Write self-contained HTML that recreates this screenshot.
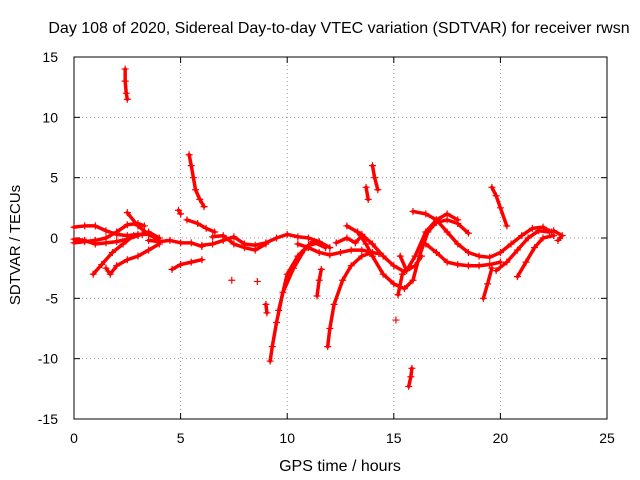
<!DOCTYPE html>
<html><head><meta charset="utf-8"><style>
body{margin:0;background:#fff}
svg{display:block;font-family:"Liberation Sans",sans-serif}
</style></head><body>
<svg id="chart" width="640" height="480" viewBox="0 0 640 480">
<rect width="640" height="480" fill="#fff"/>
<g id="grid"></g>
<g id="axes"></g>
<g id="series"></g>
<text x="339" y="33" font-size="16" text-anchor="middle">Day 108 of 2020, Sidereal Day-to-day VTEC variation (SDTVAR) for receiver rwsn</text>
<text x="340" y="471" font-size="16" text-anchor="middle">GPS time / hours</text>
<text x="20" y="245" font-size="15" text-anchor="middle" transform="rotate(-90 20 245)">SDTVAR / TECUs</text>
</svg>
<script>
const xTicks=[0,5,10,15,20,25];
const yTicks=[15,10,5,0,-5,-10,-15];
const tracks=[
[[0,0.9],[0.5,1.0],[1,1.0],[1.5,0.6],[2,0.3],[2.5,0.2],[3,0.3],[3.5,0.3]],
[[0,-0.4],[0.5,-0.3],[1,-0.2],[1.5,0.0],[2,0.5],[2.5,1.1],[3,1.2],[3.3,1.0]],
[[0,-0.1],[0.5,-0.2],[1,-0.5],[1.5,-0.4],[2,-0.3],[2.5,-0.1],[3,0.2],[3.5,0.5],[4,0.0]],
[[0.9,-3],[1.3,-2.2],[1.8,-1.2],[2.3,-0.5],[2.8,0.2],[3.2,0.3]],
[[1.5,-2.5],[1.7,-3.0],[2,-2.3],[2.5,-1.8],[3,-1.5],[3.5,-1.0],[4,-0.5]],
[[2.5,2.1],[3,1.0],[3.5,0.3],[4,-0.2]],
[[2.4,14.0],[2.4,13.0],[2.45,12.0],[2.5,11.5]],
[[3.5,-0.2],[4,-0.3],[4.5,-0.2],[5,-0.4],[5.5,-0.4],[6,-0.7]],
[[4.6,-2.6],[5,-2.2],[5.5,-2.0],[6,-1.8]],
[[4.9,2.3],[5,2.0]],
[[5.4,6.9],[5.5,6.0],[5.6,5.0],[5.7,4.0],[5.9,3.2],[6.1,2.6]],
[[5.3,1.5],[5.8,1.2],[6.2,0.8],[6.6,0.5]],
[[6,-0.6],[6.5,-0.5],[7,-0.2],[7.5,0.1],[8,-0.5],[8.5,-0.6],[9,-0.4],[9.5,0],[10,0.3],[10.5,0.1],[11,0],[11.5,-0.3],[12,-0.8]],
[[6.5,0.1],[7,0.2],[7.5,-0.5],[8,-0.8],[8.5,-1.0],[9,-0.5]],
[[7.4,-3.5]],
[[8.6,-3.6]],
[[9,-5.5],[9.05,-6.2]],
[[9.2,-10.2],[9.3,-9.0],[9.5,-7.0],[9.8,-4.5],[10.3,-2.5],[10.8,-1.0],[11.2,-0.3],[11.8,-0.8]],
[[9.6,-6],[10,-3.0],[10.5,-1.5],[11,-0.6],[11.5,-0.4]],
[[11.4,-4.8],[11.5,-3.5],[11.6,-2.6]],
[[11.9,-9],[12,-7.5],[12.2,-5.5],[12.6,-3.5],[13,-2.3],[13.5,-1.5],[14,-1.2],[14.3,-1.3]],
[[10.5,-0.5],[11,-0.8],[11.5,-1.2],[12,-1.4],[12.5,-1.2],[13,-1.0],[13.5,-1.0],[14,-1.2]],
[[12.3,-0.4],[12.8,0],[13.2,-0.4],[13.5,0.2]],
[[12.8,1.0],[13.5,0.3],[14,-0.5],[14.5,-1.5],[15,-2.3],[15.5,-2.8],[16,-2.3],[16.3,-1.5]],
[[13.7,4.2],[13.8,3.2]],
[[14,6],[14.1,5],[14.25,4]],
[[13.3,0.5],[13.7,-0.5],[14,-1.5],[14.5,-3.0],[15,-3.8],[15.5,-4.2],[15.9,-3.5],[16.2,-1.5],[16.6,0.5],[17,1.3],[17.5,1.5],[18,1.2],[18.5,0.4]],
[[15.3,-1.5],[15.6,-2.7],[16,-1.5],[16.5,0.5],[17,1.5],[17.5,2.0],[18,1.5]],
[[15.1,-6.8]],
[[15.7,-12.3],[15.8,-11.5],[15.85,-10.8]],
[[15.2,-4.7],[15.4,-3.0]],
[[15.9,2.2],[16.5,2.0],[17,1.5],[17.5,0.5],[18,-0.5],[18.5,-1.2],[19,-1.5],[19.5,-1.6],[20,-1.2],[20.5,-0.5],[21,0.2],[21.5,0.8],[22,0.9],[22.4,0.5]],
[[16.5,-0.5],[17,-1.2],[17.5,-2.0],[18,-2.2],[18.5,-2.3],[19,-2.3],[19.5,-2.2],[20,-2.0]],
[[19.2,-5],[19.4,-3.8],[19.6,-2.5]],
[[19.6,4.2],[19.8,3.5],[20,2.5],[20.3,1.0]],
[[19.8,-2.7],[20.3,-2.0],[20.8,-1.0],[21.3,0],[21.8,0.6],[22.3,0.5]],
[[20.8,-3.2],[21.2,-2.0],[21.6,-0.8],[22,0],[22.5,0.2]],
[[22.5,0.6],[22.9,0.2],[22.7,-0.2]]
];
const L=74,R=607,T=57,B=419;
const X=v=>L+(v-0)/(25-0)*(R-L);
const Y=v=>B-(v+15)/30*(B-T);
const NS='http://www.w3.org/2000/svg';
function mk(tag,attrs,parent){const e=document.createElementNS(NS,tag);for(const k in attrs)e.setAttribute(k,attrs[k]);parent.appendChild(e);return e;}
const grid=document.getElementById('grid'),axes=document.getElementById('axes'),ser=document.getElementById('series');
xTicks.forEach(t=>{
  const x=X(t);
  if(t>0&&t<25){const g=mk('line',{x1:x,x2:x,y1:T,y2:B,stroke:'#a0a0a0','stroke-dasharray':'1,3'},grid);
  
  }
  mk('line',{x1:x,x2:x,y1:B,y2:B-6,stroke:'#000'},axes);
  mk('line',{x1:x,x2:x,y1:T,y2:T+6,stroke:'#000'},axes);
  const tx=mk('text',{x:x,y:B+24,'font-size':14,'text-anchor':'middle'},axes);tx.textContent=t;
  
  
});
yTicks.forEach(t=>{
  const y=Y(t);
  if(t>-15&&t<15){const g=mk('line',{x1:L,x2:R,y1:y,y2:y,stroke:'#a0a0a0','stroke-dasharray':'1,3'},grid);
  
  }
  mk('line',{x1:L,x2:L+6,y1:y,y2:y,stroke:'#000'},axes);
  mk('line',{x1:R,x2:R-6,y1:y,y2:y,stroke:'#000'},axes);
  const tx=mk('text',{x:L-16,y:y+5,'font-size':14,'text-anchor':'end'},axes);tx.textContent=t;
  
  
});
const fr=mk('rect',{x:L,y:T,width:R-L,height:B-T,fill:'none',stroke:'#000'},axes);


tracks.forEach(tr=>{
  const pts=tr.map(p=>X(p[0])+','+Y(p[1])).join(' ');
  if(tr.length>1){const pl=mk('polyline',{points:pts,fill:'none',stroke:'#ff0000','stroke-width':3.5,'stroke-linejoin':'round','stroke-linecap':'round'},ser);
  
  }
  tr.forEach(p=>{
    const x=X(p[0]),y=Y(p[1]);
    const m=mk('path',{d:`M${x-3.5},${y}h7M${x},${y-3.5}v7`,stroke:'#ff0000','stroke-width':1.2},ser);
    
    
  });
});
</script>
</body></html>
